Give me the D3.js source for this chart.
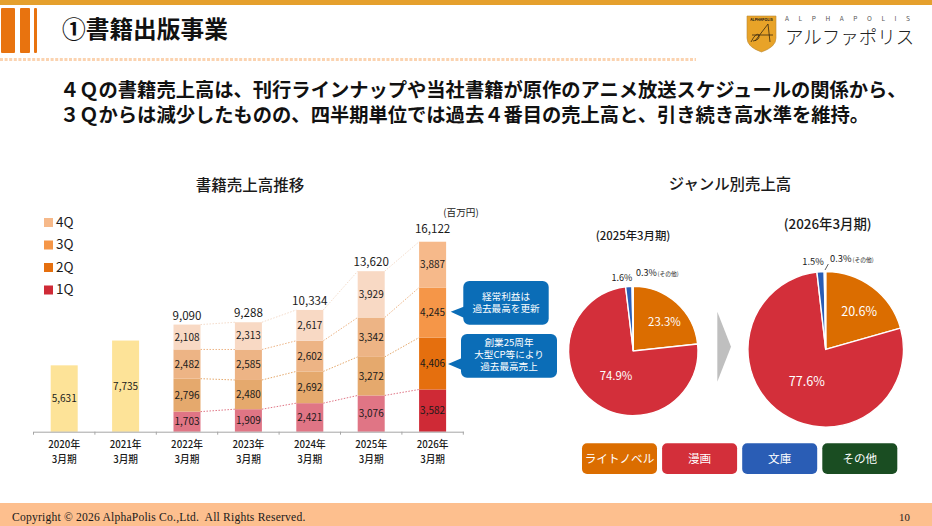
<!DOCTYPE html>
<html lang="ja">
<head>
<meta charset="utf-8">
<script src="https://cdn.jsdelivr.net/npm/d3@7"></script>
<style>
    html, body { margin: 0; padding: 0; background: #fff; }
    svg { display: block; }
    text { font-family: "Noto Sans CJK JP", "Noto Sans", sans-serif; fill: #1a1a1a; }
</style>
</head>
<body>
<div id="chart"></div>
<script>
const years = ['2020年', '2021年', '2022年', '2023年', '2024年', '2025年', '2026年']
const annualOnly = [{ year: '2020年', value: 5631 }, { year: '2021年', value: 7735 }]
const quarterYears = ['2022年', '2023年', '2024年', '2025年', '2026年']
const q1 = [1703, 1909, 2421, 3076, 3582]
const q2 = [2796, 2480, 2692, 3272, 4406]
const q3 = [2482, 2585, 2602, 3342, 4245]
const q4 = [2108, 2313, 2617, 3929, 3887]
const totals = [9090, 9288, 10334, 13620, 16122]
const quarterNames = ['1Q', '2Q', '3Q', '4Q']

const genres = ['ライトノベル', '漫画', '文庫', 'その他']
const share2025 = [23.3, 74.9, 1.6, 0.3]
const share2026 = [20.6, 77.6, 1.5, 0.3]

const headline = [
    '４Ｑの書籍売上高は、刊行ラインナップや当社書籍が原作のアニメ放送スケジュールの関係から、',
    '３Ｑからは減少したものの、四半期単位では過去４番目の売上高と、引き続き高水準を維持。'
]

const fullColors = ['#CF2A36', '#E56F0E', '#F59648', '#F6B98A']
const fadedColors = ['#E07585', '#E5A96D', '#EDB485', '#F8D9C4']
const lineColors = ['#E07585', '#E5A96D', '#EDB485', '#F4DCCB']
const genreColors = ['#DB6D00', '#D32F3A', '#2A5DB5', '#1A4D22']

const svg = d3.select('#chart').append('svg')
    .attr('width', 932)
    .attr('height', 526)

drawHeader()
drawBars()
drawPies()
drawFooter()

function drawHeader() {
    svg.append('rect').attr('width', 932).attr('height', 5).attr('fill', '#E5A02D')

    const bars = [[1, 14], [20, 10], [34, 3]]
    svg.selectAll('.sideBar')
        .data(bars)
        .join('rect')
        .attr('class', 'sideBar')
        .attr('x', d => d[0])
        .attr('y', 8)
        .attr('width', d => d[1])
        .attr('height', 45)
        .attr('rx', 1)
        .attr('fill', '#E8730F')

    svg.append('line')
        .attr('x1', 0).attr('x2', 696)
        .attr('y1', 59.5).attr('y2', 59.5)
        .attr('stroke', '#FBD3B0')
        .attr('stroke-width', 3)
        .attr('stroke-dasharray', '3 1.6')

    svg.append('text')
        .text('①書籍出版事業')
        .attr('x', 62)
        .attr('y', 38)
        .attr('font-size', 23.7)
        .attr('font-weight', 700)
        .style('fill', '#111')

    svg.selectAll('.headline')
        .data(headline)
        .join('text')
        .attr('class', 'headline')
        .text(d => d)
        .attr('x', 60)
        .attr('y', (d, i) => 97 + i * 25)
        .attr('font-size', 19.3)
        .attr('font-weight', 700)
        .style('fill', '#111')

    // logo
    const logo = svg.append('g')
    logo.append('path')
        .attr('d', 'M747,16 H776 V38 Q776,47 761.5,52 Q747,47 747,38 Z')
        .attr('fill', '#E8A328')
        .attr('stroke', '#B98A3A')
        .attr('stroke-width', 0.6)
    logo.append('text')
        .text('ALPHAPOLIS')
        .attr('x', 761.5).attr('y', 21)
        .attr('text-anchor', 'middle')
        .attr('font-size', 3.6)
        .attr('font-weight', 700)
    logo.append('path')
        .attr('d', 'M751,42 Q756,32 759,35 Q760,40 753,41 M755,41 L768,24 L770,42 M752,35 H773')
        .attr('fill', 'none')
        .attr('stroke', '#3a2a10')
        .attr('stroke-width', 0.8)
    logo.append('text')
        .text('ALPHAPOLIS')
        .attr('x', 785).attr('y', 21)
        .attr('font-size', 6.5)
        .attr('letter-spacing', 9.6)
        .style('fill', '#555')
    logo.append('text')
        .text('アルファポリス')
        .attr('x', 785).attr('y', 44)
        .attr('font-size', 18.5)
        .attr('font-weight', 300)
        .style('fill', '#222')
}

function drawBars() {
    const baseline = 431.7

    const x = d3.scaleBand()
        .domain(years)
        .range([33.5, 463.3])
        .paddingInner(0.56)
        .paddingOuter(0.28)

    const y = d3.scaleLinear()
        .domain([0, d3.max(totals)])
        .range([baseline, 241.7])

    svg.append('text')
        .text('書籍売上高推移')
        .attr('x', 250).attr('y', 191)
        .attr('text-anchor', 'middle')
        .attr('font-size', 15.5)
        .attr('font-weight', 500)

    // legend
    const legendRows = quarterNames.slice().reverse()
    const legend = svg.append('g').selectAll('g')
        .data(legendRows)
        .join('g')
        .attr('transform', (d, i) => `translate(44,${218 + i * 22.5})`)
    legend.append('rect')
        .attr('width', 9).attr('height', 9)
        .attr('fill', d => fullColors[quarterNames.indexOf(d)])
    legend.append('text')
        .text(d => d)
        .attr('x', 12).attr('y', 8.6)
        .attr('font-size', 13.5)

    // annual bars, no quarterly split for these two years
    svg.append('g').selectAll('rect')
        .data(annualOnly)
        .join('rect')
        .attr('x', d => x(d.year))
        .attr('y', d => y(d.value))
        .attr('width', x.bandwidth())
        .attr('height', d => baseline - y(d.value))
        .attr('fill', '#FDE398')

    svg.append('g').selectAll('text')
        .data(annualOnly)
        .join('text')
        .text(d => d3.format(',')(d.value))
        .attr('x', d => x(d.year) + x.bandwidth() / 2)
        .attr('y', d => y(d.value / 2) + 3.6)
        .attr('text-anchor', 'middle')
        .attr('font-size', 10)

    // stacked bars
    const rows = quarterYears.map((year, i) => ({ year, '1Q': q1[i], '2Q': q2[i], '3Q': q3[i], '4Q': q4[i] }))
    const series = d3.stack().keys(quarterNames)(rows)

    // dotted connectors between the segment tops
    const connectors = svg.append('g')
    series.forEach((s, k) => {
        d3.pairs(s).forEach(([a, b]) => {
            connectors.append('line')
                .attr('x1', x(a.data.year) + x.bandwidth())
                .attr('x2', x(b.data.year))
                .attr('y1', y(a[1]))
                .attr('y2', y(b[1]))
                .attr('stroke', lineColors[k])
                .attr('stroke-width', 1)
                .attr('stroke-dasharray', '1.5 1.5')
        })
    })

    const layers = svg.append('g').selectAll('g')
        .data(series)
        .join('g')

    layers.selectAll('rect')
        .data((s, k) => s.map(d => ({ d, k })))
        .join('rect')
        .attr('x', p => x(p.d.data.year))
        .attr('y', p => y(p.d[1]))
        .attr('width', x.bandwidth())
        .attr('height', p => y(p.d[0]) - y(p.d[1]))
        .attr('fill', p => p.d.data.year === '2026年' ? fullColors[p.k] : fadedColors[p.k])

    layers.selectAll('text')
        .data(s => s)
        .join('text')
        .text(d => d3.format(',')(d[1] - d[0]))
        .attr('x', d => x(d.data.year) + x.bandwidth() / 2)
        .attr('y', d => y((d[0] + d[1]) / 2) + 3.6)
        .attr('text-anchor', 'middle')
        .attr('font-size', 10)

    // the last total sits a little higher than the others
    svg.append('g').selectAll('text')
        .data(rows)
        .join('text')
        .text((d, i) => d3.format(',')(totals[i]))
        .attr('x', d => x(d.year) + x.bandwidth() / 2)
        .attr('y', (d, i) => y(totals[i]) - (i === 4 ? 8.5 : 5))
        .attr('text-anchor', 'middle')
        .attr('font-size', 11.6)

    svg.append('text')
        .text('(百万円)')
        .attr('x', 461).attr('y', 215.5)
        .attr('text-anchor', 'middle')
        .attr('font-size', 9.6)

    // axis
    const axis = svg.append('g')
        .attr('transform', `translate(0,${baseline})`)
        .call(d3.axisBottom(x).tickSize(0).tickPadding(9))
    axis.select('.domain').attr('stroke', '#A6A6A6').attr('stroke-width', 1)
    axis.selectAll('.tick text')
        .attr('font-size', 9.7)
        .attr('font-weight', 500)
        .style('font-family', '"Noto Sans CJK JP"')
        .each(function () {
            d3.select(this).append('tspan')
                .attr('x', 0)
                .attr('dy', 15.3)
                .text('3月期')
        })
    axis.selectAll('.sep')
        .data(d3.range(years.length + 1))
        .join('line')
        .attr('class', 'sep')
        .attr('x1', i => 33.5 + i * x.step())
        .attr('x2', i => 33.5 + i * x.step())
        .attr('y1', 0).attr('y2', 3)
        .attr('stroke', '#A6A6A6')

    // callouts
    drawCallout(463.3, 281, 85.4, 43.7, 450.7, 311.7, 306.5, 318, 506, ['経常利益は', '過去最高を更新'], 296.7)
    drawCallout(461, 334, 96, 43.7, 448, 364, 358, 370, 509, ['創業25周年', '大型CP等により', '過去最高売上'], 343)
}

function drawCallout(left, top, width, height, tipX, tipY, baseTop, baseBottom, textX, lines, firstY) {
    const g = svg.append('g')
    g.append('rect')
        .attr('x', left).attr('y', top)
        .attr('width', width).attr('height', height)
        .attr('rx', 6)
        .attr('fill', '#0B6DB7')
    g.append('path')
        .attr('d', `M${left + 1},${baseTop} L${tipX},${tipY} L${left + 1},${baseBottom} Z`)
        .attr('fill', '#0B6DB7')
    g.append('text')
        .attr('y', firstY + 3.4)
        .attr('text-anchor', 'middle')
        .attr('font-size', 9.6)
        .style('fill', '#fff')
        .selectAll('tspan')
        .data(lines)
        .join('tspan')
        .text(d => d)
        .attr('x', textX)
        .attr('dy', (d, i) => i === 0 ? 0 : 11.8)
        .style('fill', '#fff')
}

function drawPies() {
    svg.append('text')
        .text('ジャンル別売上高')
        .attr('x', 730).attr('y', 190)
        .attr('text-anchor', 'middle')
        .attr('font-size', 15.4)
        .attr('font-weight', 500)

    drawPie(share2025, 633.3, 351, 64.7, 11.4)
    drawPie(share2026, 825.7, 349.3, 77.8, 12.6)

    svg.append('text').text('(2025年3月期)')
        .attr('x', 633).attr('y', 239.5)
        .attr('text-anchor', 'middle')
        .attr('font-size', 11.4)
        .attr('font-weight', 500)
    svg.append('text').text('(2026年3月期)')
        .attr('x', 827.7).attr('y', 229)
        .attr('text-anchor', 'middle')
        .attr('font-size', 13.4)
        .attr('font-weight', 500)

    // small slices are labelled by hand
    smallLabel('1.6%', 622, 281, 'middle', 9)
    smallLabel('0.3%', 636, 276.3, 'start', 9)
    smallLabel('(その他)', 657.5, 276, 'start', 5.8)
    smallLabel('1.5%', 813, 265, 'middle', 9.3)
    smallLabel('0.3%', 830, 262, 'start', 9.3)
    smallLabel('(その他)', 852.5, 262, 'start', 5.8)
    svg.append('line')
        .attr('x1', 825).attr('y1', 270)
        .attr('x2', 828.3).attr('y2', 264)
        .attr('stroke', '#333')
        .attr('stroke-width', 0.8)

    svg.append('path')
        .attr('d', 'M717.3,311.7 L731,346.7 L717.3,381.7 Z')
        .attr('fill', '#BFBFBF')

    const pillX = d3.scalePoint()
        .domain(genres)
        .range([582, 822.3])
    const pills = svg.append('g').selectAll('g')
        .data(genres)
        .join('g')
        .attr('transform', d => `translate(${pillX(d)},443.3)`)
    pills.append('rect')
        .attr('width', 75)
        .attr('height', 30.7)
        .attr('rx', 5)
        .attr('fill', (d, i) => genreColors[i])
    pills.append('text')
        .text(d => d)
        .attr('x', 37.5)
        .attr('y', 19.8)
        .attr('text-anchor', 'middle')
        .attr('font-size', 11.6)
        .style('fill', '#fff')
}

function drawPie(values, cx, cy, radius, labelSize) {
    const pie = d3.pie().sort(null)
    const arc = d3.arc().innerRadius(0).outerRadius(radius)
    const arcs = pie(values)
    const g = svg.append('g').attr('transform', `translate(${cx},${cy})`)

    g.selectAll('path')
        .data(arcs)
        .join('path')
        .attr('d', arc)
        .attr('fill', (d, i) => genreColors[i])
        .attr('stroke', '#fff')
        .attr('stroke-width', 1.4)

    // the two big slices carry their label inside, at different depths
    const depth = [0.65, 0.48]
    const nudge = [[3, 2], [2, 1]]
    g.selectAll('text')
        .data(arcs.slice(0, 2))
        .join('text')
        .text(d => d.value.toFixed(1) + '%')
        .attr('x', (d, i) => Math.sin((d.startAngle + d.endAngle) / 2) * radius * depth[i] + nudge[i][0])
        .attr('y', (d, i) => -Math.cos((d.startAngle + d.endAngle) / 2) * radius * depth[i] + labelSize * 0.36 + nudge[i][1])
        .attr('text-anchor', 'middle')
        .attr('font-size', labelSize)
        .style('fill', '#fff')
}

function smallLabel(label, x, y, anchor, size) {
    svg.append('text')
        .text(label)
        .attr('x', x).attr('y', y)
        .attr('text-anchor', anchor)
        .attr('font-size', size)
}

function drawFooter() {
    svg.append('rect')
        .attr('y', 503).attr('width', 932).attr('height', 23)
        .attr('fill', '#FDBF8E')
    svg.append('text')
        .text('Copyright © 2026 AlphaPolis Co.,Ltd.  All Rights Reserved.')
        .attr('x', 12).attr('y', 521)
        .attr('font-size', 11.6)
        .attr('letter-spacing', 0.2)
        .attr('xml:space', 'preserve')
        .style('font-family', '"Liberation Serif"')
    svg.append('text')
        .text('10')
        .attr('x', 899).attr('y', 521)
        .attr('font-size', 10.8)
        .style('font-family', '"Liberation Serif"')
}
</script>
</body>
</html>
